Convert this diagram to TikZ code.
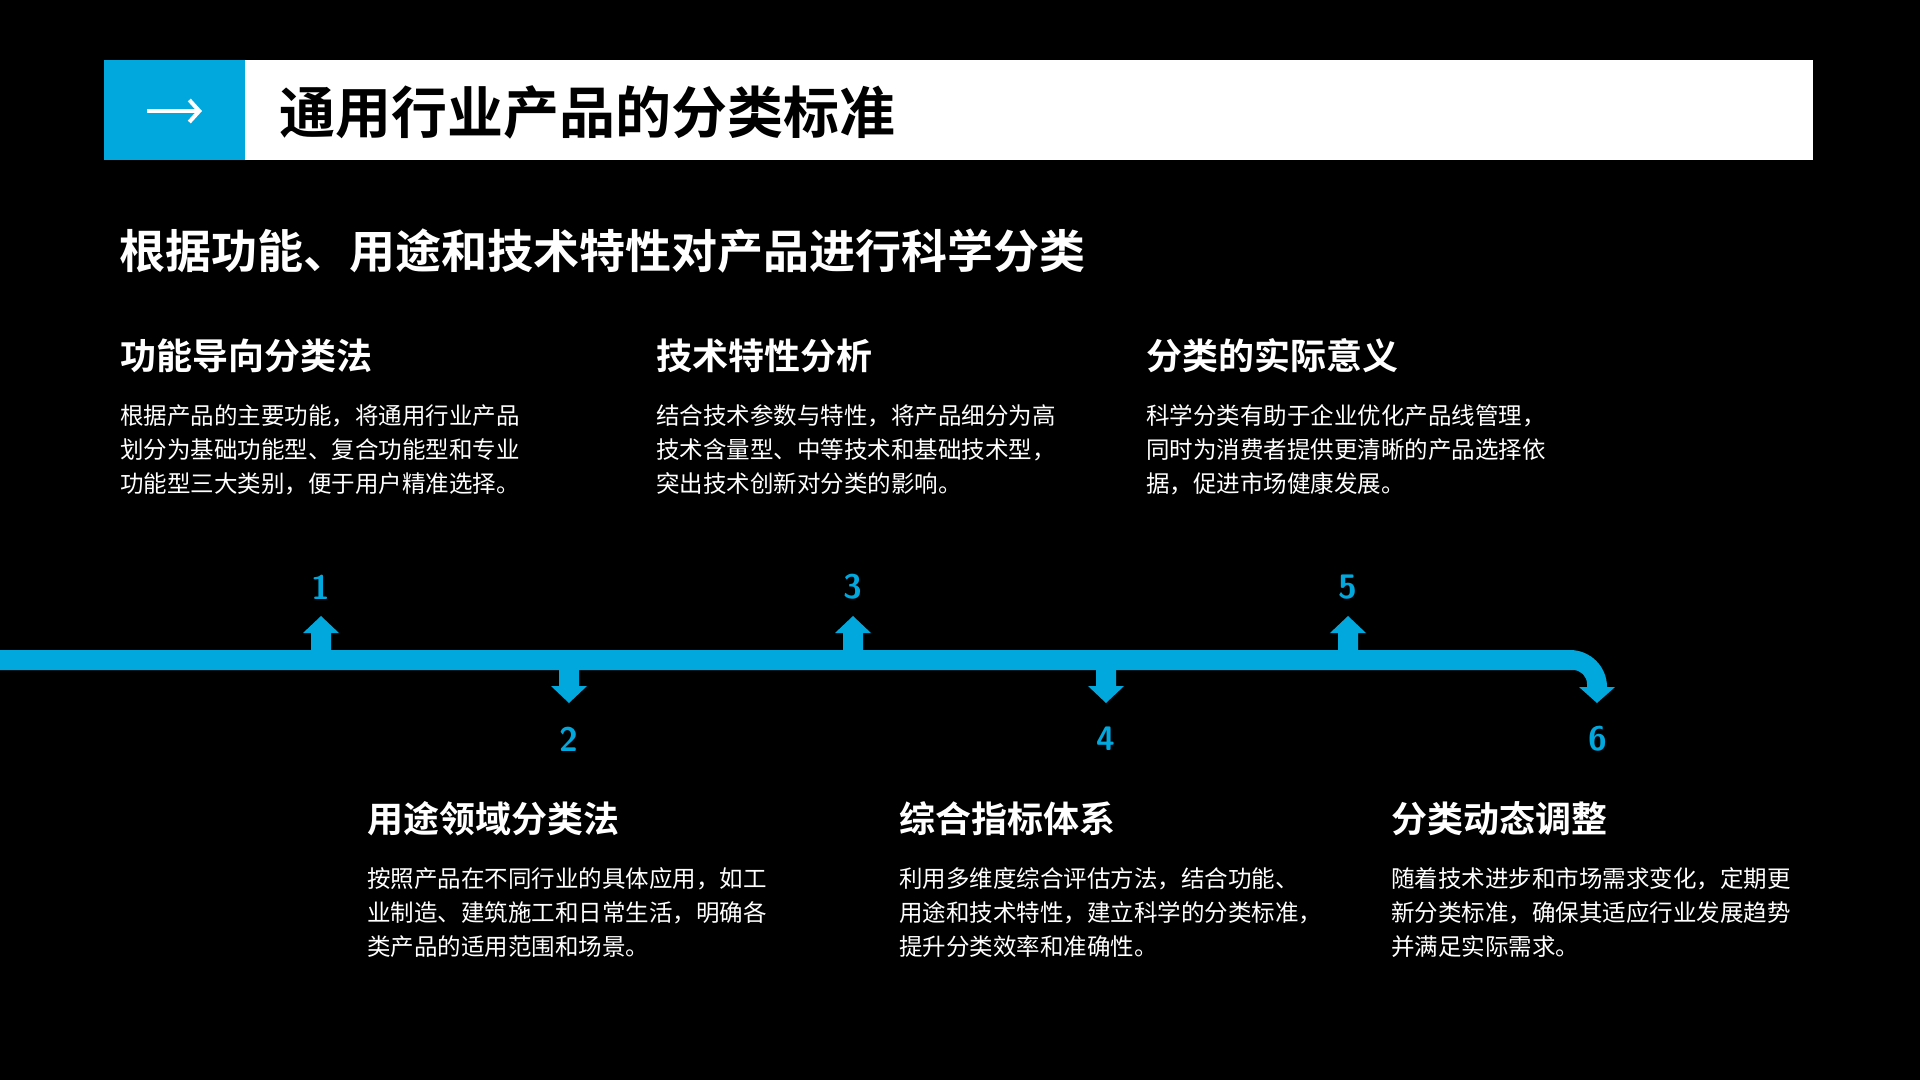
\documentclass[tikz,border=0pt]{standalone}
\usepackage{fontspec}
\setmainfont{Noto Sans CJK SC}
\newfontfamily\cjkb{Noto Sans CJK SC Bold}
\usetikzlibrary{arrows.meta}
\definecolor{tblue}{RGB}{0,168,222}
\begin{document}
\begin{tikzpicture}[x=1pt,y=-1pt,
  head/.style={anchor=west,text=white,font=\cjkb\fontsize{36}{40}\selectfont,inner sep=0},
  body/.style={anchor=north west,text=white,font=\fontsize{23.5}{34}\selectfont,align=left,inner sep=0},
  num/.style={text=tblue,font=\bfseries\sffamily\fontsize{34}{36}\selectfont,inner sep=0}]
\fill[black] (0,0) rectangle (1920,1080);
\useasboundingbox (0,0) rectangle (1920,1080);
\fill[white] (245,60) rectangle (1813,160);
\fill[tblue] (104,60) rectangle (245,160);
\draw[white,line width=4pt,-{Straight Barb[length=10pt,width=22pt,line width=4pt]}] (147,111) -- (202,111);
\node[anchor=west,inner sep=0,font=\cjkb\fontsize{56}{60}\selectfont] (title) at (279,112) {通用行业产品的分类标准};
\node[anchor=west,inner sep=0,text=white,font=\cjkb\fontsize{46}{50}\selectfont] (sub) at (119,251) {根据功能、用途和技术特性对产品进行科学分类};
% top items
\node[head] (h1) at (120,356) {功能导向分类法};
\node[body] (b1) at (120,404) {根据产品的主要功能，将通用行业产品\\划分为基础功能型、复合功能型和专业\\功能型三大类别，便于用户精准选择。};
\node[head] (h3) at (656,356) {技术特性分析};
\node[body] (b3) at (656,404) {结合技术参数与特性，将产品细分为高\\技术含量型、中等技术和基础技术型，\\突出技术创新对分类的影响。};
\node[head] (h5) at (1146,356) {分类的实际意义};
\node[body] (b5) at (1146,404) {科学分类有助于企业优化产品线管理，\\同时为消费者提供更清晰的产品选择依\\据，促进市场健康发展。};
% bottom items
\node[head] (h2) at (367,819) {用途领域分类法};
\node[body] (b2) at (367,867) {按照产品在不同行业的具体应用，如工\\业制造、建筑施工和日常生活，明确各\\类产品的适用范围和场景。};
\node[head] (h4) at (899,819) {综合指标体系};
\node[body] (b4) at (899,867) {利用多维度综合评估方法，结合功能、\\用途和技术特性，建立科学的分类标准，\\提升分类效率和准确性。};
\node[head] (h6) at (1391,819) {分类动态调整};
\node[body] (b6) at (1391,867) {随着技术进步和市场需求变化，定期更\\新分类标准，确保其适应行业发展趋势\\并满足实际需求。};
% timeline
\fill[tblue] (0,650) -- (1570,650) arc[start angle=-90,end angle=0,radius=37] -- (1607,687) -- (1615,687) -- (1597,703) -- (1579,687) -- (1587,687) -- (1587,684) arc[start angle=0,end angle=-90,radius=14] -- (0,670) -- cycle;
\foreach \x/\n in {321/1,853/3,1348/5}{
  \fill[tblue] (\x-10,651) -- (\x-10,633) -- (\x-18,633) -- (\x,616) -- (\x+18,633) -- (\x+10,633) -- (\x+10,651) -- cycle;
  \node[num] (n\n) at (\x,587) {\n};
}
\foreach \x/\n in {569/2,1106/4}{
  \fill[tblue] (\x-10,669) -- (\x-10,686) -- (\x-18,686) -- (\x,703) -- (\x+18,686) -- (\x+10,686) -- (\x+10,669) -- cycle;
  \node[num] (n\n) at (\x,739) {\n};
}
\node[num] (n6) at (1598,739) {6};
\end{tikzpicture}
\end{document}
